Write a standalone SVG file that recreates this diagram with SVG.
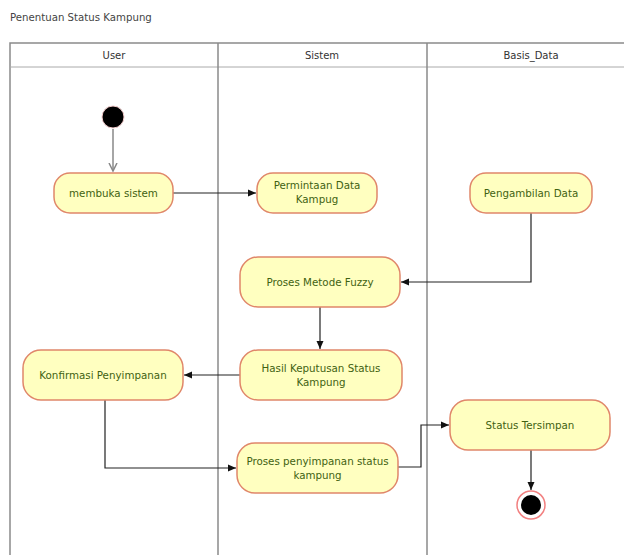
<svg xmlns="http://www.w3.org/2000/svg" width="624" height="555" viewBox="0 0 624 555">
<defs>
<style>
.lane{fill:none;stroke:#8a8a8a;stroke-width:1.5}
.hdr{font-family:"DejaVu Sans",Verdana,sans-serif;font-size:10px;fill:#333;text-anchor:middle}
.act{fill:#ffffc0;stroke:#e0876a;stroke-width:1.5}
.lbl{font-family:"DejaVu Sans",Verdana,sans-serif;font-size:10.3px;fill:#3f6212;text-anchor:middle}
.edge{fill:none;stroke:#222;stroke-width:1.2}
</style>
<marker id="ah" markerWidth="10" markerHeight="10" refX="8" refY="5" orient="auto" markerUnits="userSpaceOnUse">
<path d="M0,1.5 L8,5 L0,8.5 Z" fill="#111"/>
</marker>
<marker id="ahg" markerWidth="10" markerHeight="10" refX="8" refY="5" orient="auto" markerUnits="userSpaceOnUse">
<path d="M0,1 L8,5 L0,9" fill="none" stroke="#888" stroke-width="1.5"/>
</marker>
</defs>
<rect width="624" height="555" fill="#fff"/>
<text x="10" y="21" font-family="'DejaVu Sans',Verdana,sans-serif" font-size="10.2" fill="#444">Penentuan Status Kampung</text>
<g id="swimlanes">
<path class="lane" d="M10,555 V43 H624"/>
<line x1="10" y1="67" x2="624" y2="67" stroke="#aaa" stroke-width="1"/>
<line class="lane" x1="218" y1="43" x2="218" y2="555"/>
<line class="lane" x1="427" y1="43" x2="427" y2="555"/>
<text class="hdr" x="114" y="59">User</text>
<text class="hdr" x="322" y="59">Sistem</text>
<text class="hdr" x="531" y="59">Basis_Data</text>
</g>
<g id="connectors">
<path d="M113,129 V171" fill="none" stroke="#888" stroke-width="1.5" marker-end="url(#ahg)"/>
<path class="edge" d="M173,193 H256" marker-end="url(#ah)"/>
<path class="edge" d="M531,213 V282 H401" marker-end="url(#ah)"/>
<path class="edge" d="M320,307 V349" marker-end="url(#ah)"/>
<path class="edge" d="M240,375 H184" marker-end="url(#ah)"/>
<path class="edge" d="M105,400 V468 H236" marker-end="url(#ah)"/>
<path class="edge" d="M398,467 H421 V425 H449" marker-end="url(#ah)"/>
<path class="edge" d="M531,450 V490" marker-end="url(#ah)"/>
</g>
<g id="start"><circle cx="113" cy="117" r="11" fill="#000" stroke="#f4cccc" stroke-width="1"/></g>
<g id="membuka"><rect class="act" x="54" y="173" width="119" height="40" rx="16"/><text class="lbl" x="113.5" y="196.5">membuka sistem</text></g>
<g id="permintaan"><rect class="act" x="257" y="173" width="120" height="40" rx="16"/><text class="lbl" x="317" y="189">Permintaan Data</text><text class="lbl" x="317" y="202.5">Kampug</text></g>
<g id="pengambilan"><rect class="act" x="470" y="173" width="122" height="40" rx="16"/><text class="lbl" x="531" y="196.5">Pengambilan Data</text></g>
<g id="fuzzy"><rect class="act" x="240" y="257" width="160" height="50" rx="18"/><text class="lbl" x="320" y="285.5">Proses Metode Fuzzy</text></g>
<g id="hasil"><rect class="act" x="240" y="350" width="162" height="50" rx="18"/><text class="lbl" x="321" y="372">Hasil Keputusan Status</text><text class="lbl" x="321" y="385.5">Kampung</text></g>
<g id="konfirmasi"><rect class="act" x="23" y="350" width="160" height="50" rx="18"/><text class="lbl" x="103" y="378.5">Konfirmasi Penyimpanan</text></g>
<g id="penyimpanan"><rect class="act" x="237" y="443" width="161" height="50" rx="18"/><text class="lbl" x="317.5" y="465">Proses penyimpanan status</text><text class="lbl" x="317.5" y="478.5">kampung</text></g>
<g id="tersimpan"><rect class="act" x="450" y="400" width="160" height="50" rx="18"/><text class="lbl" x="530" y="428.5">Status Tersimpan</text></g>
<g id="end"><circle cx="531" cy="505" r="14" fill="#fff" stroke="#f28080" stroke-width="1.5"/><circle cx="531" cy="505" r="10" fill="#000"/></g>
</svg>
